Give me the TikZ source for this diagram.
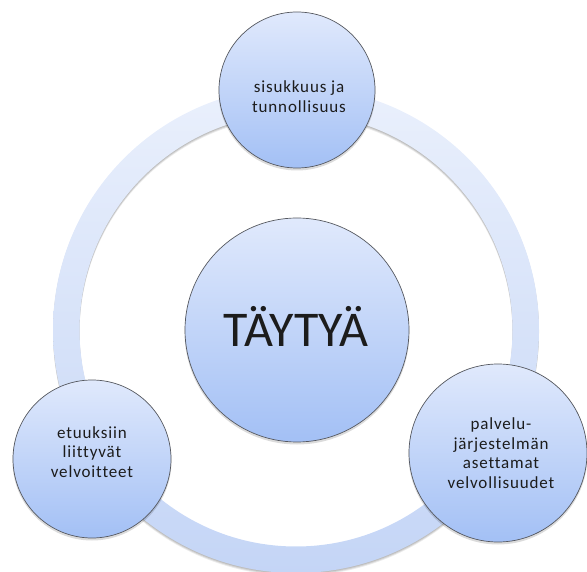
\documentclass[tikz,border=0pt]{standalone}
\usepackage{fontspec}
\setmainfont{Carlito}[Ligatures=NoCommon]

\definecolor{ringtop}{RGB}{234,240,252}
\definecolor{ringbot}{RGB}{196,213,246}
\definecolor{balltop}{RGB}{224,233,252}
\definecolor{ballbot}{RGB}{163,192,245}
\definecolor{rim}{RGB}{85,88,95}
\definecolor{ink}{RGB}{28,28,28}

\tikzset{
  ball/.style={circle, draw=rim, line width=0.7pt, top color=balltop,
    bottom color=ballbot, inner sep=0pt},
  ballshadow/.style={circle, fill=black, opacity=0.14, inner sep=0pt},
  caption/.style={align=center, text=ink, inner sep=0pt,
    font=\fontsize{17}{19.5}\selectfont\addfontfeatures{LetterSpace=5}},
  bigcaption/.style={text=ink, inner sep=0pt,
    font=\fontsize{50}{60}\selectfont},
}

\begin{document}
\begin{tikzpicture}[x=1pt,y=-1pt]
\useasboundingbox (0,0) rectangle (587,572);

% soft shadow under the ring
\foreach \d/\o in {1/0.10,2/0.10,3/0.08}{
  \fill[black, opacity=\o, even odd rule]
    (296,330+\d) circle[radius=243] (296,330+\d) circle[radius=216.5];
}
% the ring, lighter at the top
\begin{scope}[even odd rule]
  \clip (296,330) circle[radius=243] (296,330) circle[radius=216.5];
  \shade[top color=ringtop, bottom color=ringbot] (40,85) rectangle (550,575);
\end{scope}

% shadows of the circles
\node[ballshadow, minimum size=157pt] (tops) at (297,92) {};
\node[ballshadow, minimum size=159pt] (lefts) at (92,461) {};
\node[ballshadow, minimum size=179pt] (rights) at (498,455) {};
\node[ballshadow, minimum size=225pt] (cores) at (297,332) {};

% circles
\node[ball, minimum size=156pt] (topc) at (297,90) {};
\node[ball, minimum size=158pt] (leftc) at (92,459) {};
\node[ball, minimum size=178pt] (rightc) at (498,453) {};
\node[ball, minimum size=224pt] (core) at (297,330) {};

% texts
\node[caption] (topt) at (299,96.5) {sisukkuus ja\\tunnollisuus};
\node[caption] (leftt) at (92,452) {etuuksiin\\liittyvät\\velvoitteet};
\node[caption] (rightt) at (501,453) {palvelu-\\järjestelmän\\asettamat\\velvollisuudet};
\node[bigcaption] (coret) at (296,326) {TÄYTYÄ};
\end{tikzpicture}
\end{document}
